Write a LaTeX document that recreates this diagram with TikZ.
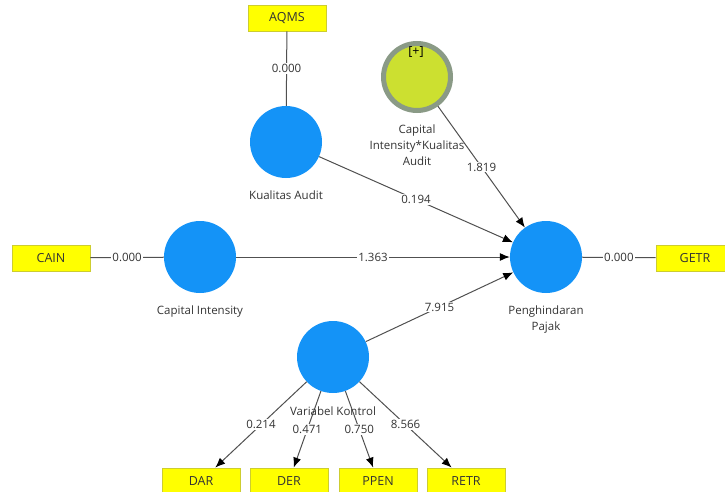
\documentclass[tikz,border=0pt]{standalone}
\usepackage{fontspec}
\setmainfont{Open Sans}
\usetikzlibrary{arrows.meta,positioning}

\definecolor{latentblue}{HTML}{1493F7}
\definecolor{indyellow}{HTML}{FFFF00}
\definecolor{indborder}{HTML}{CDCD30}
\definecolor{modgreen}{HTML}{CCE030}
\definecolor{modring}{HTML}{8A9A86}
\definecolor{plsgray}{HTML}{505050}
\definecolor{txtgray}{HTML}{333333}

\tikzset{
  latent/.style={circle,fill=latentblue,minimum size=72pt,inner sep=0pt},
  modlatent/.style={circle,fill=modgreen,draw=modring,line width=5pt,minimum size=67pt,inner sep=0pt},
  indicator/.style={rectangle,fill=indyellow,draw=indborder,line width=0.8pt,minimum width=78pt,minimum height=26pt,text=txtgray,font=\fontsize{12.5}{14}\selectfont},
  lvname/.style={font=\fontsize{11.5}{16}\selectfont,text=txtgray,align=center,inner sep=0pt},
  plsline/.style={draw=plsgray,line width=1pt},
  plsarrow/.style={plsline,-{Latex[length=10pt,width=8pt,color=black]}},
  coef/.style={midway,fill=white,inner sep=1pt,text=txtgray,font=\fontsize{11.5}{14}\selectfont}
}

\begin{document}
\begin{tikzpicture}[x=1pt,y=-1pt]
    \useasboundingbox (0,0) rectangle (725,492);

    % Latent variables
    \node[latent] (ka) at (286,142) {};
    \node[latent] (ci) at (200,257) {};
    \node[latent] (pp) at (546,257) {};
    \node[latent] (vk) at (333,357) {};
    \node[modlatent] (mod) at (417,77) {};
    \node[lvname,font=\fontsize{12.5}{14}\selectfont,text=black] (modplus) at (416,52) {[+]};

    % Latent variable names
    \node[lvname,below=12pt of ka] (kaname) {Kualitas Audit};
    \node[lvname,below=12pt of ci] (ciname) {Capital Intensity};
    \node[lvname,below=12pt of pp] (ppname) {Penghindaran\\Pajak};
    \node[lvname,below=12pt of mod] (modname) {Capital\\Intensity*Kualitas\\Audit};

    % Indicators
    \node[indicator] (aqms) at (287,18) {AQMS};
    \node[indicator] (cain) at (51,258) {CAIN};
    \node[indicator] (getr) at (695,258) {GETR};

    % Measurement paths
    \draw[plsline] (aqms) -- node[coef] {0.000} (ka);
    \draw[plsline] (cain) -- node[coef] {0.000} (ci);
    \draw[plsline] (pp) -- node[coef] {0.000} (getr);

    % Control variable indicators
    \foreach \name/\x/\val in {DAR/201/0.214,DER/289/0.471,PPEN/378/0.750,RETR/466/8.566}
    {
        \node[indicator] (\name) at (\x,481) {\name};
        \draw[plsarrow] (vk) -- node[coef] {\val} (\name);
    }
    \node[lvname,below=13pt of vk] (vkname) {Variabel Kontrol};

    % Structural paths
    \draw[plsarrow] (ka) -- node[coef] {0.194} (pp);
    \draw[plsarrow] (mod) -- node[coef] {1.819} (pp);
    \draw[plsarrow] (ci) -- node[coef] {1.363} (pp);
    \draw[plsarrow] (vk) -- node[coef] {7.915} (pp);
\end{tikzpicture}
\end{document}
